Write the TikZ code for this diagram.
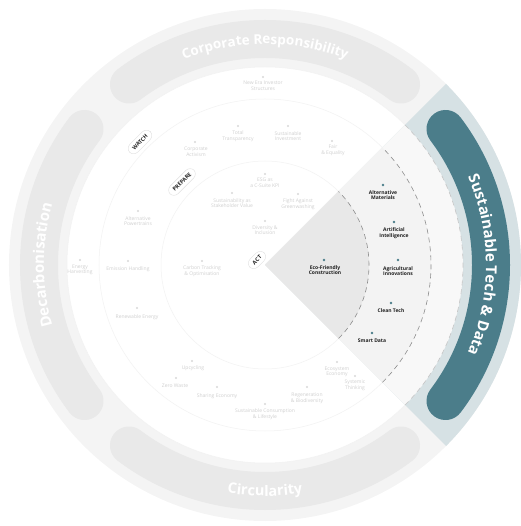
\documentclass[tikz,border=0pt]{standalone}
\usepackage{fontspec}
\setmainfont{Open Sans}
\usetikzlibrary{decorations.text}
\definecolor{teal1}{HTML}{4B7D8A}
\definecolor{bluegray}{HTML}{D6E1E4}
\definecolor{ringgray}{HTML}{F4F4F4}
\definecolor{bandgray}{HTML}{E9E9E9}
\definecolor{actgray}{HTML}{E8E8E8}
\definecolor{prepgray}{HTML}{F3F3F3}
\definecolor{watchgray}{HTML}{F8F8F8}
\definecolor{fadetext}{HTML}{D0D0D0}
\definecolor{fadedot}{HTML}{D8D8D8}
\definecolor{itemtext}{HTML}{1E1E1E}
\definecolor{dashgray}{HTML}{8C8C8C}
\definecolor{faintline}{HTML}{F2F2F2}
\begin{document}
\begin{tikzpicture}[x=1pt,y=1pt,
  item/.style={font=\fontsize{5}{5.6}\selectfont\bfseries, align=center, text=itemtext, inner sep=0pt},
  fitem/.style={font=\fontsize{5}{5.6}\selectfont, align=center, text=fadetext, inner sep=0pt},
  tdot/.style={circle, fill=teal1, minimum size=2.6pt, inner sep=0pt},
  fdot/.style={circle, fill=fadedot, minimum size=2.2pt, inner sep=0pt},
  pill/.style={draw=black!12, fill=white, rounded corners=6pt, font=\fontsize{5.5}{6}\selectfont\bfseries, text=black!85, inner xsep=5pt, inner ysep=3.5pt, rotate=45},
  band/.style={line width=38pt, line cap=round},
  bandtext/.style={decorate, decoration={text along path, text align=center, text color=white}},
  sectordash/.style={draw=dashgray, line width=0.6pt, dash pattern=on 5pt off 4pt},
]
\useasboundingbox (-265,-261) rectangle (255,265);
% outer ring and disc
\fill[ringgray] (0,0) circle[radius=256pt];
\fill[white] (0,0) circle[radius=198pt];
\draw[faintline, line width=0.5pt] (0,0) circle[radius=198pt];
\draw[faintline, line width=0.5pt] (0,0) circle[radius=166pt];
\draw[faintline, line width=0.5pt] (0,0) circle[radius=104pt];
% highlighted sector
\fill[bluegray] (0,0) -- (-45:256pt) arc[start angle=-45, end angle=45, radius=256pt] -- cycle;
\fill[watchgray] (0,0) -- (-45:198pt) arc[start angle=-45, end angle=45, radius=198pt] -- cycle;
\fill[prepgray] (0,0) -- (-45:166pt) arc[start angle=-45, end angle=45, radius=166pt] -- cycle;
\fill[actgray] (0,0) -- (-45:104pt) arc[start angle=-45, end angle=45, radius=104pt] -- cycle;
\draw[sectordash] (-45:104pt) arc[start angle=-45, end angle=45, radius=104pt];
\draw[sectordash] (-45:166pt) arc[start angle=-45, end angle=45, radius=166pt];
\draw[sectordash, draw=dashgray!50] (-45:198pt) arc[start angle=-45, end angle=45, radius=198pt];
% bands
\draw[band, bandgray] (53:226pt) arc[start angle=53, end angle=127, radius=226pt];
\draw[band, bandgray] (143:226pt) arc[start angle=143, end angle=217, radius=226pt];
\draw[band, bandgray] (233:226pt) arc[start angle=233, end angle=307, radius=226pt];
\draw[band, teal1] (-37:226pt) arc[start angle=-37, end angle=37, radius=226pt];
% band texts
\path[bandtext, decoration={text={|\fontsize{13.5}{13.5}\selectfont\bfseries|Corporate Responsibility}}] (135:221pt) arc[start angle=135, end angle=45, radius=221pt];
\path[bandtext, decoration={text={|\fontsize{15}{15}\selectfont\bfseries|Decarbonisation}}] (225:221pt) arc[start angle=225, end angle=135, radius=221pt];
\path[bandtext, decoration={text={|\fontsize{15}{15}\selectfont\bfseries|Sustainable Tech {\&} Data}}] (45:221pt) arc[start angle=45, end angle=-45, radius=221pt];
\path[bandtext, decoration={text={|\fontsize{14.5}{14.5}\selectfont\bfseries|Circularity}}] (225:231pt) arc[start angle=225, end angle=315, radius=231pt];
% ring labels
\node[pill] (watch) at (-125,123) {WATCH};
\node[pill] (prepare) at (-83,83) {PREPARE};
\node[pill] (act) at (-8,5) {ACT};
% highlighted items
\node[tdot] (d1) at (59,5) {};
\node[item] (t1) at (60,-5) {Eco-Friendly\\Construction};
\node[tdot] (d2) at (118,80) {};
\node[item] (t2) at (118,70) {Alternative\\Materials};
\node[tdot] (d3) at (129,43) {};
\node[item] (t3) at (129,32) {Artificial\\Intelligence};
\node[tdot] (d4) at (133,5) {};
\node[item] (t4) at (133,-6) {Agricultural\\Innovations};
\node[tdot] (d5) at (126,-38) {};
\node[item] (t5) at (126,-46) {Clean Tech};
\node[tdot] (d6) at (107,-68) {};
\node[item] (t6) at (107,-76) {Smart Data};
% faded items
\node[fdot] (f1) at (-2,188) {};
\node[fitem] (g1) at (-2,179) {New Era Investor\\Structures};
\node[fdot] (f2) at (-70,123) {};
\node[fitem] (g2) at (-69,113) {Corporate\\Activism};
\node[fdot] (f3) at (-27,139) {};
\node[fitem] (g3) at (-27,129) {Total\\Transparency};
\node[fdot] (f4) at (23,139) {};
\node[fitem] (g4) at (23,129) {Sustainable\\Investment};
\node[fdot] (f5) at (67,124) {};
\node[fitem] (g5) at (68,115) {Fair\\\& Equality};
\node[fdot] (f6) at (0,91) {};
\node[fitem] (g6) at (0,82) {ESG as\\a C-Suite KPI};
\node[fdot] (f7) at (-33,72) {};
\node[fitem] (g7) at (-33,62) {Sustainability as\\Stakeholder Value};
\node[fdot] (f8) at (33,71) {};
\node[fitem] (g8) at (33,61) {Fight Against\\Greenwashing};
\node[fdot] (f9) at (0,44) {};
\node[fitem] (g9) at (0,35) {Diversity \&\\Inclusion};
\node[fdot] (f10) at (-127,54) {};
\node[fitem] (g10) at (-127,44) {Alternative\\Powertrains};
\node[fdot] (f11) at (-185,5) {};
\node[fitem] (g11) at (-185,-5) {Energy\\Harvesting};
\node[fdot] (f12) at (-137,4) {};
\node[fitem] (g12) at (-137,-4) {Emission Handling};
\node[fdot] (f13) at (-63,4) {};
\node[fitem] (g13) at (-63,-6) {Carbon Tracking\\\& Optimisation};
\node[fdot] (f14) at (-128,-43) {};
\node[fitem] (g14) at (-128,-52) {Renewable Energy};
\node[fdot] (f15) at (-73,-96) {};
\node[fitem] (g15) at (-72,-103) {Upcycling};
\node[fdot] (f16) at (-89,-113) {};
\node[fitem] (g16) at (-90,-121) {Zero Waste};
\node[fdot] (f17) at (-48,-122) {};
\node[fitem] (g17) at (-48,-131) {Sharing Economy};
\node[fdot] (f18) at (0,-139) {};
\node[fitem] (g18) at (0,-149) {Sustainable Consumption\\\& Lifestyle};
\node[fdot] (f19) at (42,-122) {};
\node[fitem] (g19) at (42,-133) {Regeneration\\\& Biodiversity};
\node[fdot] (f20) at (72,-97) {};
\node[fitem] (g20) at (72,-107) {Ecosystem\\Economy};
\node[fdot] (f21) at (90,-111) {};
\node[fitem] (g21) at (90,-120) {Systemic\\Thinking};
\end{tikzpicture}
\end{document}
